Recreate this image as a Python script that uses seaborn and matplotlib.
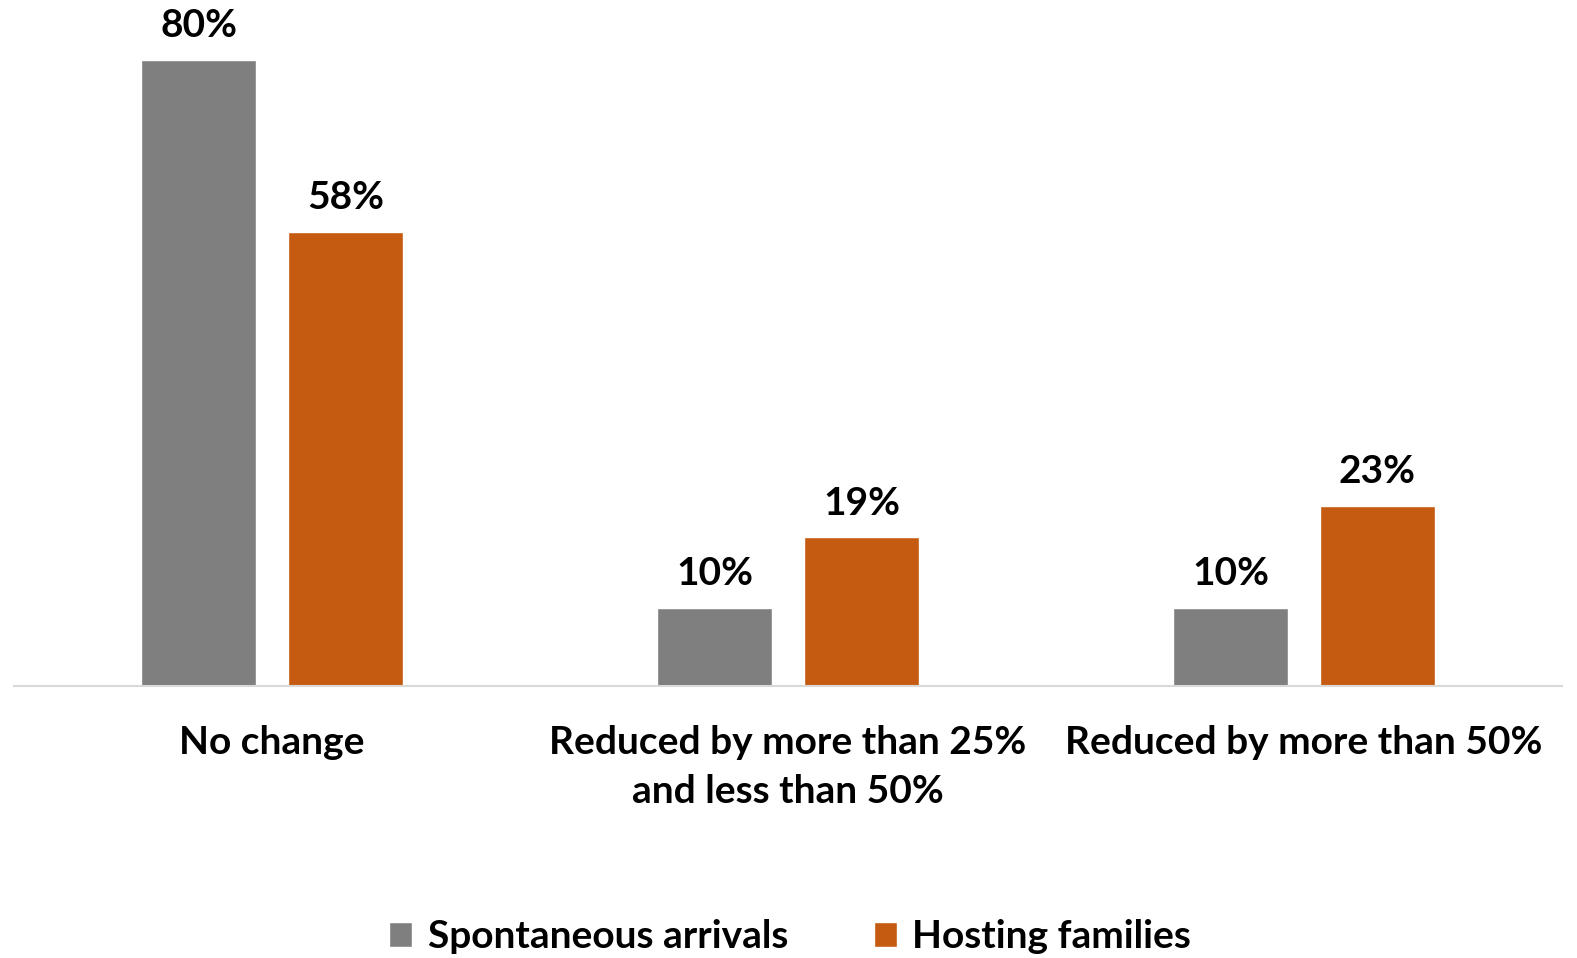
import pandas as pd
import matplotlib.pyplot as plt
import seaborn as sns

categories = ['No change', 'Reduced by more than 25%\nand less than 50%', 'Reduced by more than 50%']
spontaneous = [80, 10, 10]
hosting = [58, 19, 23]
series_names = ['Spontaneous arrivals', 'Hosting families']
colors = ['#7F7F7F', '#C55A11']

df = pd.DataFrame({
    'category': categories * 2,
    'series': [series_names[0]] * 3 + [series_names[1]] * 3,
    'value': spontaneous + hosting,
})

sns.set_style('white')
plt.rcParams['font.family'] = ['Lato', 'DejaVu Sans']
plt.rcParams['font.weight'] = 'bold'
plt.rcParams['text.color'] = 'black'
plt.rcParams['xtick.color'] = 'black'

fig = plt.figure(figsize=(15.77, 9.58), dpi=100)
ax = fig.add_axes([14 / 1577, (958 - 686) / 958, 1548 / 1577, 686 / 958])

sns.barplot(data=df, x='category', y='value', hue='series', palette=colors,
            width=0.569, gap=0.212, ax=ax, saturation=1, legend=True)

for cont in ax.containers:
    ax.bar_label(cont, fmt='%d%%', padding=12, fontsize=28, fontweight='bold', color='black')

ax.set_xlim(-0.5, 2.5)
ax.set_ylim(0, 87.6)
ax.set_xlabel('')
ax.set_ylabel('')
ax.set_yticks([])
ax.tick_params(axis='x', length=0, pad=28, labelsize=28, labelcolor='black')
for lbl in ax.get_xticklabels():
    lbl.set_fontweight('bold')
    lbl.set_linespacing(1.5)
for side in ['top', 'left', 'right']:
    ax.spines[side].set_visible(False)
ax.spines['bottom'].set_color('#D9D9D9')
ax.spines['bottom'].set_linewidth(1.5)

handles, labels = ax.get_legend_handles_labels()
ax.legend(handles, labels, loc='center', bbox_to_anchor=(790 / 1577, 21 / 958),
          bbox_transform=fig.transFigure, ncol=2, frameon=False,
          prop={'size': 28, 'weight': 'bold'}, handlelength=0.6, handleheight=0.6,
          handletextpad=0.4, columnspacing=2.2, labelcolor='black')

fig.savefig('out.png', dpi=100)
